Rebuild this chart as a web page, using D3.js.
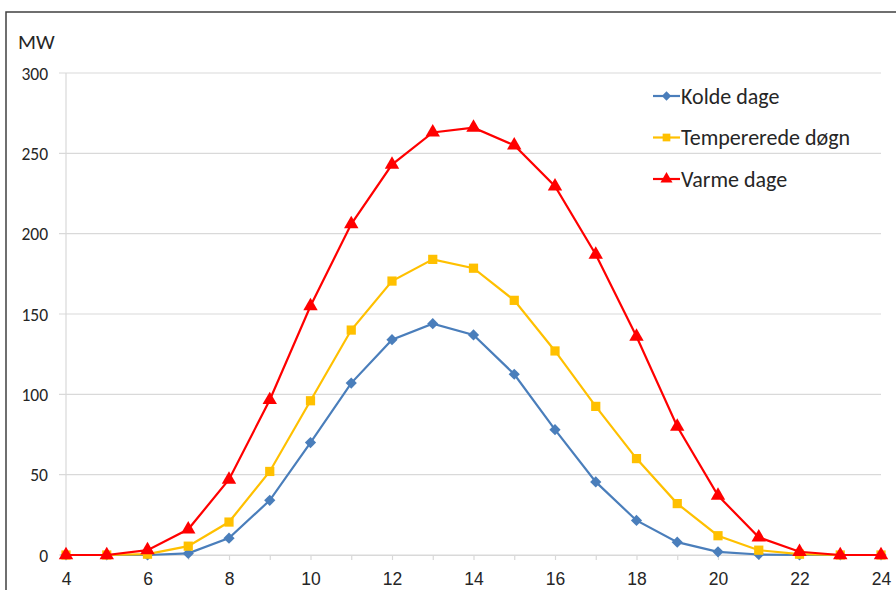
<!DOCTYPE html>
<html>
<head>
<meta charset="utf-8">
<script src="https://cdn.jsdelivr.net/npm/d3@7"></script>
<style>
  body { margin: 0; background: #fff; }
  svg { font-family: Calibri, Carlito, Lato, "Open Sans", sans-serif; }
</style>
</head>
<body>
<svg id="chart" width="896" height="590"></svg>
<script>
// hours of the day
let hours = d3.range(4, 25);

// MW per hour
let kolde = [0, 0, 0, 1, 10.5, 34, 70, 107, 134, 144, 137, 112.5, 78, 45.5, 21.5, 8, 2, 0.3, 0, 0, 0];
let tempererede = [0, 0, 0.5, 5.5, 20.5, 52, 96, 140, 170.5, 184, 178.5, 158.5, 127, 92.5, 60, 32, 12, 3, 0.5, 0, 0];
let varme = [0, 0, 3, 16, 47, 96.5, 155, 206, 243, 263, 266, 255, 229.5, 187, 136, 80, 37, 11, 2, 0, 0];

let seriesNames = ['Kolde dage', 'Tempererede døgn', 'Varme dage'];
let seriesColors = ['#4a7ebb', '#ffc000', '#ff0000'];
let seriesMarkers = [d3.symbolDiamond2, d3.symbolSquare, d3.symbolTriangle];
let markerSizes = [80, 85, 90];

let yTicks = [0, 50, 100, 150, 200, 250, 300];
let xLabels = [4, 6, 8, 10, 12, 14, 16, 18, 20, 22, 24];

let svg = d3.select('#chart');

// outer frame
svg.append('rect')
    .attr('x', 6).attr('y', 12)
    .attr('width', 900).attr('height', 600)
    .attr('fill', 'none')
    .attr('stroke', '#404040')
    .attr('stroke-width', 1.5);

let x = d3.scaleLinear().domain([4, 24]).range([66, 881]);
let y = d3.scaleLinear().domain([0, 300]).range([555, 73]);

// gridlines
svg.append('g')
    .selectAll('line')
    .data(yTicks)
    .join('line')
    .attr('x1', 59).attr('x2', 881)
    .attr('y1', d => y(d)).attr('y2', d => y(d))
    .attr('stroke', '#d9d9d9')
    .attr('stroke-width', 1.2);

// y axis line
svg.append('line')
    .attr('x1', 66).attr('x2', 66)
    .attr('y1', y(300)).attr('y2', y(0))
    .attr('stroke', '#d9d9d9')
    .attr('stroke-width', 1.2);

// y labels
svg.append('g')
    .selectAll('text')
    .data(yTicks)
    .join('text')
    .attr('x', 48)
    .attr('y', d => y(d) + 6.5)
    .attr('text-anchor', 'end')
    .attr('font-size', '17.5px')
    .attr('fill', '#262626')
    .text(d => d);

svg.append('text')
    .attr('x', 18).attr('y', 49)
    .attr('font-size', '21px')
    .attr('fill', '#262626')
    .text('MW');

// x axis
let xAxis = d3.axisBottom(x)
    .tickValues(hours)
    .tickSize(5)
    .tickFormat(d => xLabels.includes(d) ? d : '');

let gx = svg.append('g')
    .attr('transform', 'translate(0,' + y(0) + ')')
    .call(xAxis);
gx.select('.domain').attr('stroke', '#d9d9d9').attr('stroke-width', 1.2);
gx.selectAll('.tick line').attr('stroke', '#d9d9d9').attr('stroke-width', 1.2);
gx.selectAll('.tick text')
    .attr('font-family', null)
    .attr('font-size', '17.5px')
    .attr('fill', '#262626')
    .attr('y', 30)
    .attr('dy', null);

// lines + markers
let allSeries = [kolde, tempererede, varme];
let line = d3.line()
    .x((d, i) => x(hours[i]))
    .y(d => y(d));

allSeries.forEach(function (vals, s) {
    svg.append('path')
        .datum(vals)
        .attr('d', line)
        .attr('fill', 'none')
        .attr('stroke', seriesColors[s])
        .attr('stroke-width', 2.2);

    svg.append('g')
        .selectAll('path')
        .data(vals)
        .join('path')
        .attr('transform', (d, i) => 'translate(' + x(hours[i]) + ',' + y(d) + ')')
        .attr('d', d3.symbol().type(seriesMarkers[s]).size(markerSizes[s]))
        .attr('fill', seriesColors[s]);
});

// legend
let legend = svg.append('g')
    .selectAll('g')
    .data(seriesNames)
    .join('g')
    .attr('transform', (d, i) => 'translate(653,' + (96 + i * 41.5) + ')');

legend.append('line')
    .attr('x1', 0).attr('x2', 27)
    .attr('stroke', (d, i) => seriesColors[i])
    .attr('stroke-width', 2.2);

legend.append('path')
    .attr('transform', 'translate(13.5,0)')
    .attr('d', (d, i) => d3.symbol().type(seriesMarkers[i]).size(markerSizes[i] * 0.7)())
    .attr('fill', (d, i) => seriesColors[i]);

legend.append('text')
    .attr('x', 28)
    .attr('y', 7.5)
    .attr('font-size', '22px')
    .attr('fill', '#262626')
    .text(d => d);
</script>
</body>
</html>
